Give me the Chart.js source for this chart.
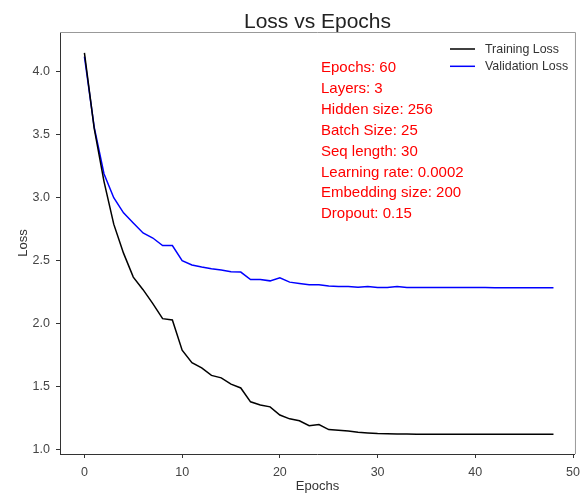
<!DOCTYPE html>
<html>
<head>
<meta charset="utf-8">
<script src="https://cdn.jsdelivr.net/npm/chart.js@4.4.0/dist/chart.umd.min.js"></script>
<style>
  html, body { margin: 0; padding: 0; background: #fff; }
  #wrap { width: 587px; height: 494px; }
</style>
</head>
<body>
<div id="wrap"><canvas id="c" width="587" height="494"></canvas></div>
<script>
const epochs = Array.from({length: 49}, (_, i) => i);
const trainingLoss = [
  4.15, 3.55, 3.13, 2.79, 2.56, 2.37, 2.27, 2.16, 2.04, 2.03,
  1.79, 1.69, 1.65, 1.59, 1.57, 1.52, 1.49, 1.38, 1.355, 1.34,
  1.275, 1.245, 1.23, 1.19, 1.20, 1.16, 1.155, 1.148, 1.138, 1.133,
  1.128, 1.126, 1.125, 1.124, 1.122, 1.122, 1.122, 1.122, 1.122, 1.122,
  1.122, 1.122, 1.122, 1.122, 1.122, 1.122, 1.122, 1.122, 1.122
];
const validationLoss = [
  4.12, 3.56, 3.19, 3.00, 2.88, 2.80, 2.72, 2.68, 2.62, 2.62,
  2.50, 2.466, 2.45, 2.437, 2.426, 2.413, 2.41, 2.35, 2.35, 2.34,
  2.365, 2.33, 2.32, 2.31, 2.31, 2.30, 2.295, 2.295, 2.29, 2.296,
  2.288, 2.288, 2.296, 2.288, 2.288, 2.287, 2.287, 2.287, 2.287, 2.287,
  2.287, 2.287, 2.286, 2.286, 2.286, 2.286, 2.285, 2.285, 2.285
];
const yTicks = [1.0, 1.5, 2.0, 2.5, 3.0, 3.5, 4.0];
const xTicks = [0, 10, 20, 30, 40, 50];
const infoLines = [
  "Epochs: 60", "Layers: 3", "Hidden size: 256", "Batch Size: 25",
  "Seq length: 30", "Learning rate: 0.0002", "Embedding size: 200", "Dropout: 0.15"
];
const titleText = "Loss vs Epochs";
const xLabel = "Epochs";
const yLabel = "Loss";

const FONT = "'Liberation Sans', Arial, sans-serif";

const decor = {
  id: 'decor',
  afterDraw(chart) {
    const ctx = chart.ctx;
    const a = chart.chartArea;
    ctx.save();
    // top & right spines
    ctx.strokeStyle = '#999';
    ctx.lineWidth = 1;
    ctx.beginPath();
    ctx.moveTo(a.left, a.top + 0.5);
    ctx.lineTo(a.right + 0.5, a.top + 0.5);
    ctx.lineTo(a.right + 0.5, a.bottom);
    ctx.stroke();
    // title
    ctx.fillStyle = '#222';
    ctx.font = '21px ' + FONT;
    ctx.textAlign = 'center';
    ctx.textBaseline = 'alphabetic';
    ctx.fillText(titleText, (a.left + a.right) / 2, 28);
    // axis labels
    ctx.font = '13px ' + FONT;
    ctx.fillStyle = '#333';
    ctx.fillText(xLabel, (a.left + a.right) / 2, 490);
    ctx.save();
    ctx.translate(27, (a.top + a.bottom) / 2);
    ctx.rotate(-Math.PI / 2);
    ctx.fillText(yLabel, 0, 0);
    ctx.restore();
    // info text
    ctx.fillStyle = '#ff0000';
    ctx.font = '15px ' + FONT;
    ctx.textAlign = 'left';
    infoLines.forEach((t, i) => ctx.fillText(t, 321, 72 + i * 20.9));
    // legend
    const ds = chart.data.datasets;
    ctx.font = '12.4px ' + FONT;
    ds.forEach((d, i) => {
      const y = 49 + i * 17.3;
      ctx.strokeStyle = d.borderColor;
      ctx.lineWidth = 1.5;
      ctx.beginPath();
      ctx.moveTo(450, y);
      ctx.lineTo(475, y);
      ctx.stroke();
      ctx.fillStyle = '#333';
      ctx.textBaseline = 'middle';
      ctx.fillText(d.label, 485, y + 0.5);
    });
    ctx.restore();
  }
};

new Chart(document.getElementById('c'), {
  type: 'line',
  data: {
    datasets: [
      { label: 'Training Loss', data: epochs.map((e, i) => ({x: e, y: trainingLoss[i]})),
        borderColor: '#000000', borderWidth: 1.5, pointRadius: 0, tension: 0, fill: false },
      { label: 'Validation Loss', data: epochs.map((e, i) => ({x: e, y: validationLoss[i]})),
        borderColor: '#0000ff', borderWidth: 1.5, pointRadius: 0, tension: 0, fill: false }
    ]
  },
  options: {
    responsive: false,
    animation: false,
    devicePixelRatio: 1,
    layout: { padding: { top: 32, left: 0, right: 9, bottom: 0 } },
    plugins: { legend: { display: false }, title: { display: false }, tooltip: { enabled: false } },
    scales: {
      x: {
        type: 'linear', min: -2.5, max: 50.2,
        afterBuildTicks: s => { s.ticks = xTicks.map(v => ({value: v})); },
        afterFit: s => { s.height = 40; },
        grid: { drawOnChartArea: false, drawTicks: true, tickLength: 4, color: '#333' },
        border: { display: true, color: '#333', width: 1 },
        ticks: { color: '#444', font: { family: FONT, size: 12.5 }, padding: 7, maxRotation: 0,
                 callback: v => String(v) }
      },
      y: {
        type: 'linear', min: 0.966, max: 4.315,
        afterBuildTicks: s => { s.ticks = yTicks.map(v => ({value: v})); },
        afterFit: s => { s.width = 60; },
        grid: { drawOnChartArea: false, drawTicks: true, tickLength: 4, color: '#333' },
        border: { display: true, color: '#333', width: 1 },
        ticks: { color: '#444', font: { family: FONT, size: 12.5 }, padding: 6,
                 callback: v => Number(v).toFixed(1) }
      }
    }
  },
  plugins: [decor]
});
</script>
</body>
</html>
